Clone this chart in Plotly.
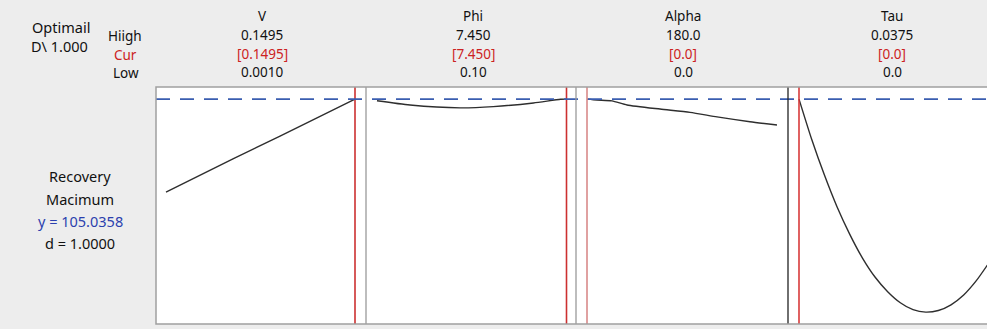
import plotly.graph_objects as go

# ---- data ----
factors = ["V", "Phi", "Alpha", "Tau"]
high_labels = ["0.1495", "7.450", "180.0", "0.0375"]
cur_labels = ["[0.1495]", "[7.450]", "[0.0]", "[0.0]"]
low_labels = ["0.0010", "0.10", "0.0", "0.0"]
low_vals = [0.0010, 0.10, 0.0, 0.0]
high_vals = [0.1495, 7.450, 180.0, 0.0375]
cur_vals = [0.1495, 7.450, 0.0, 0.0]

v_x = [0.0010, 0.0536, 0.0906, 0.1495]
v_y = [82.3, 90.4, 96.0, 105.0358]
phi_x = [0.10, 1.38, 3.33, 4.61, 6.17, 7.22, 7.45]
phi_y = [104.65, 103.6, 102.9, 103.2, 104.1, 105.0, 105.0358]
alpha_x = [0.0, 9.5, 23.7, 37.9, 69.2, 97.6, 123.2, 154.4, 180.0]
alpha_y = [105.0358, 104.8, 104.6, 103.6, 102.6, 101.8, 100.7, 99.5, 98.7]
tau_x = [0.0, 0.0025, 0.005, 0.0075, 0.010, 0.0125, 0.015, 0.0175, 0.020,
         0.0225, 0.025, 0.0275, 0.030, 0.0325, 0.035, 0.0375]
tau_y = [105.0358, 95.2, 86.5, 78.7, 72.0, 66.2, 61.5, 57.9, 55.2,
         53.5, 52.9, 53.3, 54.7, 57.1, 60.6, 65.0]

y_opt = 105.0358
response_lines = ["Recovery", "Macimum", "y = 105.0358", "d = 1.0000"]

curves_x = [v_x, phi_x, alpha_x, tau_x]
curves_y = [v_y, phi_y, alpha_y, tau_y]

# ---- layout geometry (pixels) ----
W, H = 987, 329
top_px, bot_px = 87, 324
panels = [  # left, width, offset of low, span low->high
    (156, 210, 10, 189),
    (366, 210, 11, 189.5),
    (576, 212, 11, 190),
    (788, 199, 11, 190),
]
sep_px = [(366, "#9a9a9a"), (576, "#9a9a9a"), (788, "#222222")]
cur_colors = ["#cc3030", "#cc3030", "#d98a8a", "#d83a3a"]

FONT = "Noto Sans"
FS = 13.5
fig = go.Figure()
ydom = [1 - bot_px / H, 1 - top_px / H]
shapes = []
for i in range(4):
    L, Wd, a, S = panels[i]
    lo, hi = low_vals[i], high_vals[i]
    per = (hi - lo) / S
    rmin = lo - a * per
    rmax = rmin + Wd * per
    ax = "x" if i == 0 else f"x{i+1}"
    key = "xaxis" if i == 0 else f"xaxis{i+1}"
    fig.update_layout(**{key: dict(domain=[L / W, min(1, (L + Wd) / W)], range=[rmin, rmax],
                                   showgrid=False, zeroline=False, showticklabels=False,
                                   ticks="", showline=False, anchor="y", fixedrange=True)})
    fig.add_trace(go.Scatter(x=curves_x[i], y=curves_y[i], xaxis=ax, yaxis="y", mode="lines",
                             line=dict(color="#2e2e2e", width=1.4, shape="spline", smoothing=0.6),
                             hoverinfo="skip", showlegend=False, cliponaxis=True))
    shapes.append(dict(type="line", xref=ax, yref="paper", x0=cur_vals[i], x1=cur_vals[i],
                       y0=ydom[0], y1=ydom[1], line=dict(color=cur_colors[i], width=1.6), layer="above"))

fig.update_layout(yaxis=dict(domain=ydom, range=[50, 108], showgrid=False, zeroline=False,
                             showticklabels=False, ticks="", showline=False, anchor="x", fixedrange=True))

# dashed optimum line across panels
shapes.append(dict(type="line", xref="paper", yref="y", x0=156 / W, x1=1, y0=y_opt, y1=y_opt,
                   line=dict(color="#3a5db0", width=1.8, dash="14px,10px"), layer="above"))
# separators
for px, col in sep_px:
    shapes.append(dict(type="line", xref="paper", yref="paper", x0=px / W, x1=px / W,
                       y0=ydom[0], y1=ydom[1], line=dict(color=col, width=1.3), layer="above"))
# outer box
shapes.append(dict(type="rect", xref="paper", yref="paper", x0=156 / W, x1=1.002, y0=ydom[0], y1=ydom[1],
                   line=dict(color="#a0a0a0", width=1.5), layer="above"))

ann = []
def txt(x, y, s, color="#111111", size=FS, xanchor="center"):
    ann.append(dict(x=x / W, y=1 - y / H, xref="paper", yref="paper", text=s, showarrow=False,
                    xanchor=xanchor, yanchor="middle", borderpad=0,
                    font=dict(family=FONT, size=size, color=color)))

txt(61, 27, "Optimail", size=14.5)
txt(59, 46, "D\\ 1.000", size=14.5)
txt(125, 36, "Hiigh")
txt(126, 54.5, "Cur", color="#cc2222")
txt(126, 73, "Low")
col_x = [262, 473, 683, 892]
for i in range(4):
    txt(col_x[i], 16, factors[i])
    txt(col_x[i], 35, high_labels[i])
    txt(col_x[i], 53.5, cur_labels[i], color="#cc2222")
    txt(col_x[i], 72, low_labels[i])
resp_y = [176, 198.5, 221, 243.5]
resp_col = ["#111111", "#111111", "#2b3fae", "#111111"]
for s, yy, c in zip(response_lines, resp_y, resp_col):
    txt(80, yy, s, color=c, size=14.5)

fig.update_layout(width=W, height=H, margin=dict(l=0, r=0, t=0, b=0),
                  paper_bgcolor="#ededed", plot_bgcolor="white",
                  shapes=shapes, annotations=ann, showlegend=False)
fig.write_html("out.html", config={"displayModeBar": False})
